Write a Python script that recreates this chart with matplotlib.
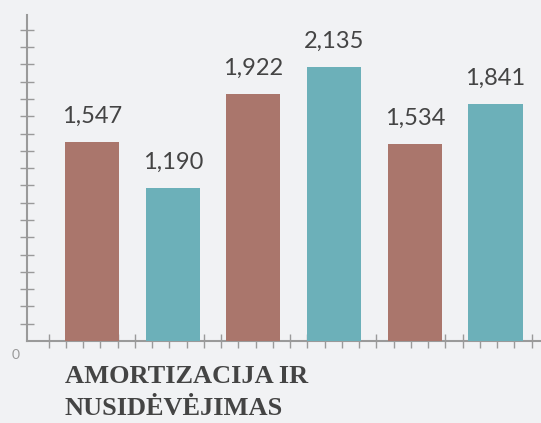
import numpy as np
import matplotlib.pyplot as plt

# values
values = [1547, 1190, 1922, 2135, 1534, 1841]
labels = ['1,547', '1,190', '1,922', '2,135', '1,534', '1,841']
colors = ['#aa766c', '#6cb0b9', '#aa766c', '#6cb0b9', '#aa766c', '#6cb0b9']
title = 'AMORTIZACIJA IR\nNUSIDĖVĖJIMAS'

bg = '#f1f2f4'
axis_col = '#9a9a9a'

fig = plt.figure(figsize=(5.41, 4.23), dpi=100, facecolor=bg)
ax = fig.add_axes([0.0494, 0.1939, 0.9506, 0.7707])
ax.set_facecolor(bg)

x = np.arange(len(values))
ax.bar(x, values, width=0.67, color=colors, zorder=3)

for xi, v, lab in zip(x, values, labels):
    ax.annotate(lab, (xi, v), xytext=(0, 11), textcoords='offset points',
                ha='center', va='bottom', fontsize=17, color='#444444',
                family='Lato')

ax.set_xlim(-0.809, 5.564)
ax.set_ylim(0, 2537)

# decorative ticks
ax.set_yticks(np.arange(1, 19) * 134.5)
ax.set_xticks(np.arange(29) * 0.2138 - 0.538)
ax.set_yticklabels([])
ax.set_xticklabels([])
ax.tick_params(axis='both', direction='inout', length=10, width=1,
               color=axis_col)

for s in ['top', 'right']:
    ax.spines[s].set_visible(False)
for s in ['left', 'bottom']:
    ax.spines[s].set_color(axis_col)
    ax.spines[s].set_linewidth(1.5)

fig.text(0.028, 0.161, '0', fontsize=10, color='#999999', ha='center',
         va='center', family='Lato')
fig.text(0.12, 0.138, title, fontsize=19, fontweight='bold',
         family='Liberation Serif', color='#444444', ha='left', va='top',
         linespacing=1.5)

fig.savefig('out.png', dpi=100, facecolor=bg)
